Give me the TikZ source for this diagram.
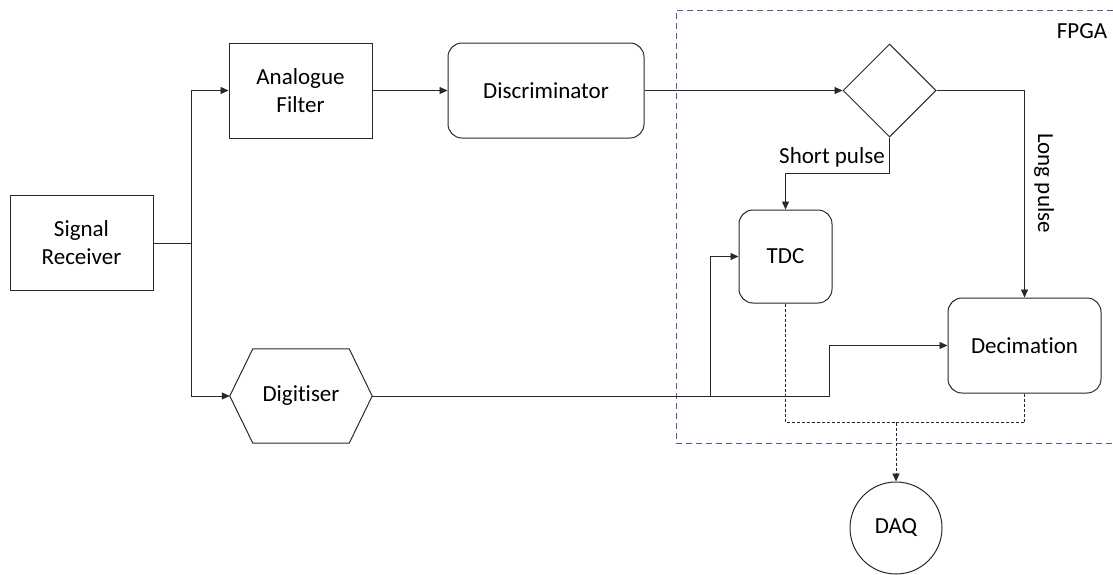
\documentclass[tikz,border=0pt]{standalone}
\usepackage{fontspec}
\setmainfont{Carlito}[RawFeature={-liga;-clig;-dlig;-calt}]
\usetikzlibrary{arrows.meta,shapes.geometric,calc}
\definecolor{fpgablue}{RGB}{68,96,150}
\definecolor{linegray}{RGB}{40,40,40}
\tikzset{
  box/.style={draw=linegray, line width=1pt, minimum width=143pt, minimum height=95pt, align=center, inner sep=0pt, font=\fontsize{23}{28}\selectfont},
  rbox/.style={box, rounded corners=14pt},
  conn/.style={line width=0.8pt, draw=linegray},
  arr/.style={conn, -{Triangle[length=8pt,width=7pt]}},
  dotconn/.style={line width=0.8pt, draw=linegray, dash pattern=on 3pt off 2pt},
  lbl/.style={font=\fontsize{23}{28}\selectfont, inner sep=0pt}
}
\begin{document}
\begin{tikzpicture}[x=1pt,y=-1pt]
\useasboundingbox (0,0) rectangle (1113,574);
% FPGA region
\draw[fpgablue, line width=1pt, dash pattern=on 6pt off 4pt] (1113,10) -- (676,10) -- (676,443) -- (1113,443);
\node[lbl, anchor=center] (fpga) at (1082,31) {FPGA};
% nodes
\node[box] (sr) at (81.5,243) {Signal\\Receiver};
\node[box] (af) at (300.5,90.5) {Analogue\\Filter};
\node[rbox, minimum width=196pt] (disc) at (546,90.5) {Discriminator};
\node[draw=linegray, line width=1pt, diamond, minimum width=93pt, minimum height=93pt, inner sep=0pt] (dia) at (889.5,90.5) {};
\node[rbox, minimum width=93pt, minimum height=93pt] (tdc) at (785.5,256.5) {TDC};
\node[rbox, minimum width=153pt, minimum height=95pt] (dec) at (1024.5,345.5) {Decimation};
\node[lbl, minimum width=142pt, minimum height=94pt] (dig) at (301,396) {Digi{}tiser};
\draw[linegray, line width=1pt] (dig.west) -- ([xshift=23pt]dig.north west) -- ([xshift=-23pt]dig.north east) -- (dig.east) -- ([xshift=-23pt]dig.south east) -- ([xshift=23pt]dig.south west) -- cycle;
\node[draw=linegray, line width=1pt, circle, minimum size=92pt, inner sep=0pt, font=\fontsize{23}{28}\selectfont] (daq) at (896,528) {DAQ};
% connectors
\coordinate (split) at (191,243);
\draw[conn] (sr.east) -- (split);
\draw[arr] (split) |- (af.west);
\draw[arr] (split) |- (dig.west);
\draw[arr] (af.east) -- (disc.west);
\draw[arr] (disc.east) -- (dia.west);
\draw[arr] (dia.east) -| (dec.north);
\coordinate (sp) at (889.5,173);
\draw[arr] (dia.south) -- (sp) -| (tdc.north);
\node[lbl, anchor=east] (short) at (885,157) {Short pulse};
\node[lbl, rotate=-90] (long) at (1044,183) {Long pulse};
\coordinate (j) at (710,396);
\coordinate (k) at (829,396);
\draw[conn] (dig.east) -- (j);
\draw[arr] (j) |- (tdc.west);
\draw[arr] (j) -- (k) |- (dec.west);
\coordinate (m) at (896,422.5);
\draw[dotconn] (tdc.south) |- (m);
\draw[dotconn] (dec.south) |- (m);
\draw[dotconn, -{Triangle[length=8pt,width=7pt]}] (m) -- (daq.north);
\end{tikzpicture}
\end{document}
